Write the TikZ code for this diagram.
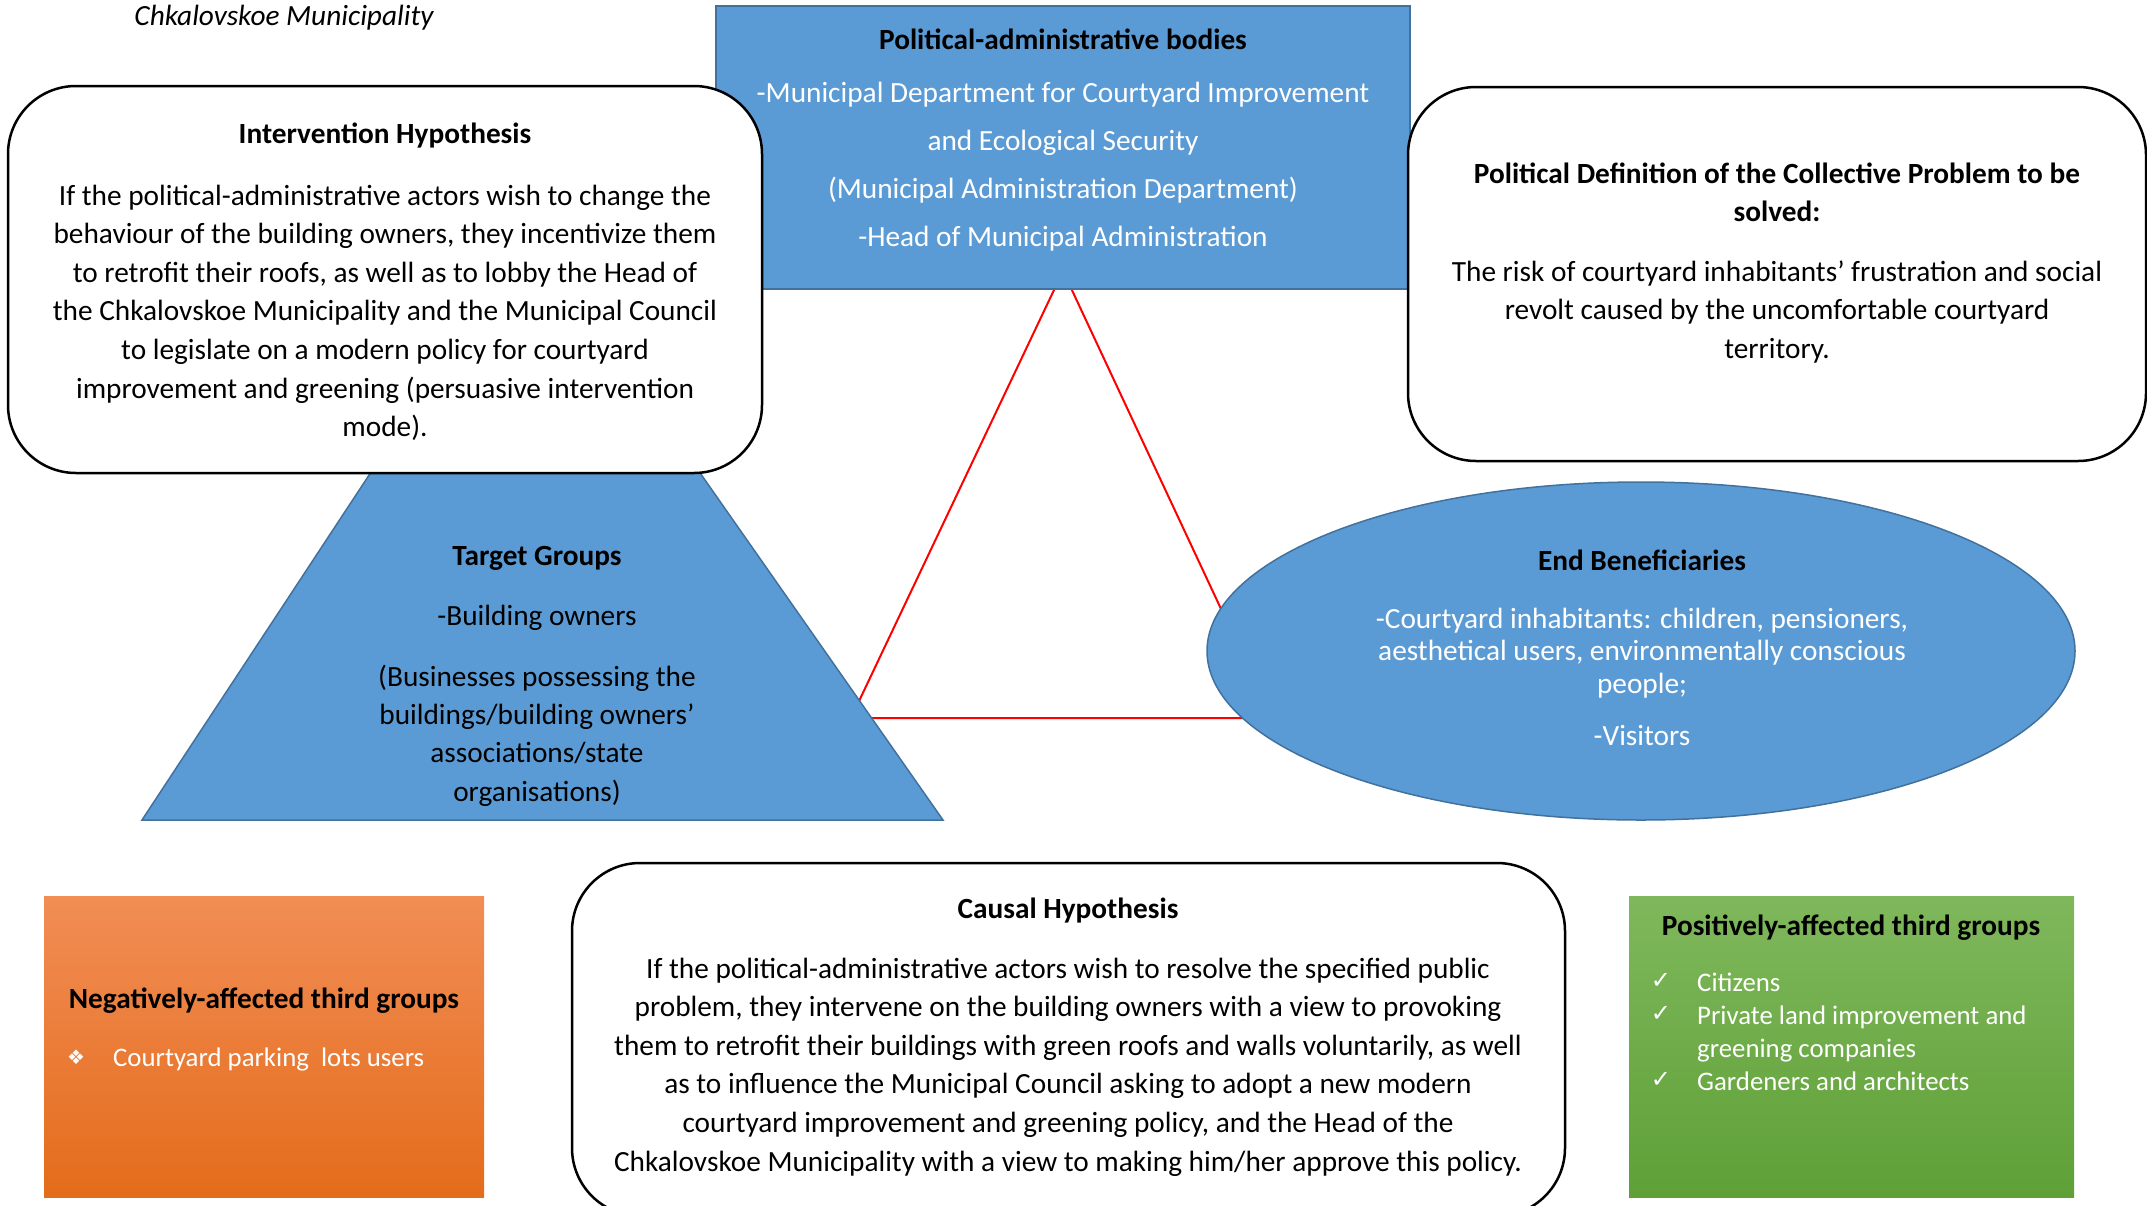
\documentclass[tikz,border=0pt]{standalone}
\usepackage{fontspec}
\setmainfont{Carlito}
\newfontfamily\symfont{DejaVu Sans}
\definecolor{blueF}{HTML}{5B9BD5}
\definecolor{blueD}{HTML}{41719C}
\definecolor{orT}{HTML}{F18D55}
\definecolor{orB}{HTML}{E46C1B}
\definecolor{grT}{HTML}{7FB85C}
\definecolor{grB}{HTML}{5FA037}
\tikzset{
  txt/.style={font=\fontsize{29.3}{38.6}\selectfont, align=center, inner sep=0pt, anchor=base},
  listtxt/.style={txt, text=white, anchor=base west, align=left, font=\fontsize{26.8}{33.5}\selectfont},
  checkmk/.style={txt, text=white, font=\fontsize{24}{26}\selectfont\symfont},
  blueshape/.style={fill=blueF, draw=blueD, line width=1.5pt},
  roundbox/.style={fill=white, draw=black, line width=2.5pt, rounded corners=68pt},
  redline/.style={draw=red, line width=2pt},
}
\begin{document}
\begin{tikzpicture}[x=1pt,y=-1pt]
\useasboundingbox (0,0) rectangle (2147,1205);

% red triangle (behind everything)
\coordinate (apex) at (1063,271);
\coordinate (tl) at (851,718);
\coordinate (tr) at (1272,718);
\draw[redline] (apex) -- (tl) -- (tr) -- cycle;

% title
\node[txt, font=\fontsize{29.3}{38.6}\selectfont\itshape] (title) at (284,25) {Chkalovskoe Municipality};

% Political-administrative bodies
\path[blueshape] (716,6) rectangle (1410,289);
\node[txt] (pat) at (1063,49) {\bfseries Political-administrative bodies};
\node[txt, text=white, font=\fontsize{29.3}{48}\selectfont] (pab) at (1063,246)
  {-Municipal Department for Courtyard Improvement\\and Ecological Security\\(Municipal Administration Department)\\-Head of Municipal Administration};

% Target groups trapezoid
\path[blueshape] (379,460) -- (691,460) -- (943,820) -- (142,820) -- cycle;
\node[txt] (tgt) at (537,565) {\bfseries Target Groups};
\node[txt] (tg1) at (537,625) {-Building owners};
\node[txt, font=\fontsize{29.3}{38.3}\selectfont] (tg2) at (537,801)
  {(Businesses possessing the\\buildings/building owners’\\associations/state\\organisations)};

% End beneficiaries ellipse
\path[blueshape] (1641,651) ellipse [x radius=434pt, y radius=169pt];
\node[txt] (ebt) at (1642,570) {\bfseries End Beneficiaries};
\node[txt, text=white, font=\fontsize{29.3}{32.5}\selectfont] (eb1) at (1642,693)
  {-Courtyard inhabitants: children, pensioners,\\aesthetical users, environmentally conscious\\people;};
\node[txt, text=white] (eb2) at (1642,745) {-Visitors};

% Intervention hypothesis
\draw[roundbox] (8,86) rectangle (762,473);
\node[txt] (iht) at (385,143) {\bfseries Intervention Hypothesis};
\node[txt] (ihb) at (385,436.6)
  {If the political-administrative actors wish to change the\\behaviour of the building owners, they incentivize them\\to retrofit their roofs, as well as to lobby the Head of\\the Chkalovskoe Municipality and the Municipal Council\\to legislate on a modern policy for courtyard\\improvement and greening (persuasive intervention\\mode).};

% Political definition
\draw[roundbox] (1408,87) rectangle (2146,461);
\node[txt, font=\fontsize{29.3}{38}\selectfont\bfseries] (pdt) at (1777,221)
  {Political Definition of the Collective Problem to be\\solved:};
\node[txt, font=\fontsize{29.3}{38.5}\selectfont] (pdb) at (1777,358)
  {The risk of courtyard inhabitants’ frustration and social\\revolt caused by the uncomfortable courtyard\\territory.};

% Negatively-affected
\path[top color=orT, bottom color=orB] (44,896) rectangle (484,1197);
\node[txt] (negt) at (264,1008) {\bfseries Negatively-affected third groups};
\node[txt, text=white, font=\fontsize{20}{24}\selectfont\symfont] (negb) at (76,1064) {❖};
\node[listtxt] (negi) at (113,1066) {Courtyard parking\ \ lots users};

% Causal hypothesis
\draw[roundbox] (572,863) rectangle (1565,1216);
\node[txt] (cht) at (1068,918) {\bfseries Causal Hypothesis};
\node[txt] (chb) at (1068,1171)
  {If the political-administrative actors wish to resolve the specified public\\problem, they intervene on the building owners with a view to provoking\\them to retrofit their buildings with green roofs and walls voluntarily, as well\\as to influence the Municipal Council asking to adopt a new modern\\courtyard improvement and greening policy, and the Head of the\\Chkalovskoe Municipality with a view to making him/her approve this policy.};

% Positively-affected
\path[top color=grT, bottom color=grB] (1629,896) rectangle (2074,1197);
\node[txt] (post) at (1851,935) {\bfseries Positively-affected third groups};
\node[checkmk] (ck1) at (1661,988) {✓};
\node[checkmk] (ck2) at (1661,1021) {✓};
\node[checkmk] (ck3) at (1661,1087) {✓};
\node[listtxt] (pos1) at (1697,991) {Citizens};
\node[listtxt] (pos2) at (1697,1057.5) {Private land improvement and\\greening companies};
\node[listtxt] (pos3) at (1697,1090) {Gardeners and architects};
\end{tikzpicture}
\end{document}
